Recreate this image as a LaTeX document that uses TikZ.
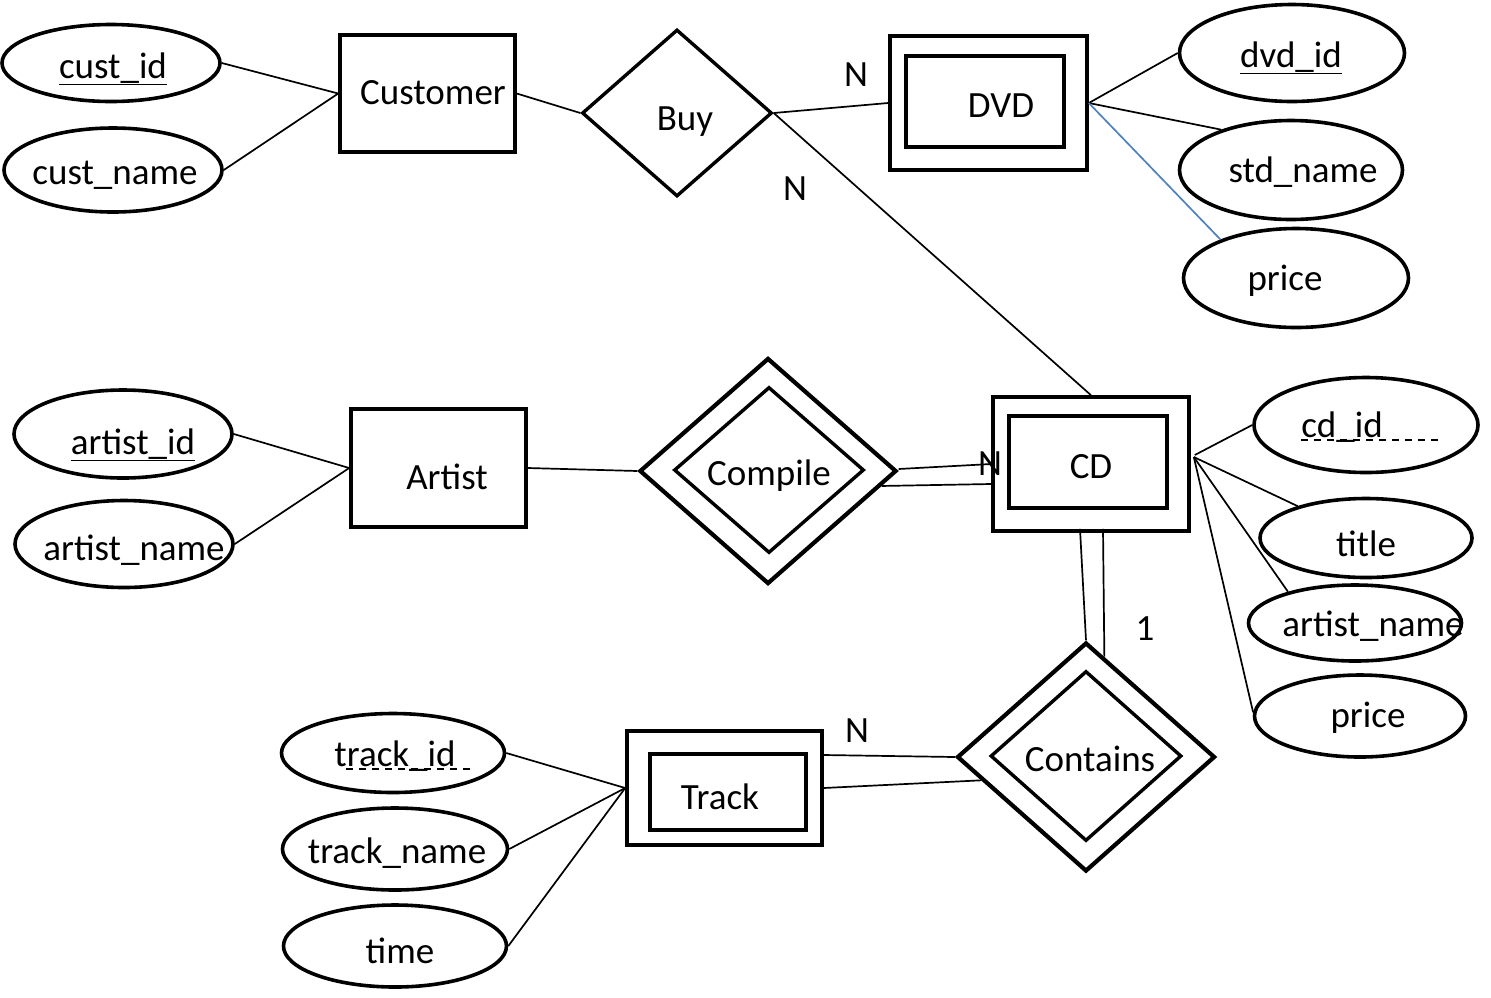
\documentclass[tikz,border=0pt]{standalone}
\usepackage{fontspec}
\setmainfont{Carlito}
\usetikzlibrary{shapes.geometric,calc}
\definecolor{linkblue}{RGB}{79,129,189}
\tikzset{
  attr/.style={ellipse,draw,line width=3.6pt,inner sep=0pt},
  ent/.style={rectangle,draw,line width=3.6pt,inner sep=0pt},
  rel/.style={diamond,draw,line width=3.4pt,inner sep=0pt},
  txt/.style={anchor=base,inner sep=0pt,font=\fontsize{37}{44}\selectfont},
  conn/.style={line width=1.7pt},
}
\begin{document}
\begin{tikzpicture}[x=1pt,y=-1pt]
\useasboundingbox (0,0) rectangle (1491,997);
% ---- shapes ----
\node[attr,minimum width=218pt,minimum height=77pt] (custid) at (111,63) {};
\node[attr,minimum width=218pt,minimum height=84pt] (custname) at (113,170) {};
\node[ent,minimum width=175pt,minimum height=117pt] (cust) at (427.5,93.5) {};
\node[rel,minimum width=190pt,minimum height=167pt] (buy) at (677,113) {};
\node[ent,minimum width=197pt,minimum height=134pt] (dvd) at (988.5,103) {};
\node[ent,minimum width=158pt,minimum height=91pt] (dvdin) at (985,101.5) {};
\node[attr,minimum width=225pt,minimum height=97pt] (dvdid) at (1292,53) {};
\node[attr,minimum width=223pt,minimum height=99pt] (stdname) at (1291,170) {};
\node[attr,minimum width=225pt,minimum height=99pt] (dvdprice) at (1296,278) {};

\node[attr,minimum width=218pt,minimum height=88pt] (artistid) at (123,434) {};
\node[attr,minimum width=218pt,minimum height=87pt] (artistname) at (124,544) {};
\node[ent,minimum width=175pt,minimum height=118pt] (artist) at (438.5,468) {};
\node[rel,minimum width=257pt,minimum height=226pt,line width=4.2pt] (compile) at (768,471) {};
\node[rel,minimum width=190pt,minimum height=166pt] (compilein) at (769,470) {};
\node[ent,minimum width=196pt,minimum height=134pt] (cd) at (1091,464) {};
\node[ent,minimum width=158pt,minimum height=92pt] (cdin) at (1088,462) {};
\node[attr,minimum width=224pt,minimum height=95pt] (cdid) at (1366,425) {};
\node[attr,minimum width=212pt,minimum height=79pt] (title) at (1366,538) {};
\node[attr,minimum width=213pt,minimum height=76pt] (cdartist) at (1355,623) {};
\node[attr,minimum width=211pt,minimum height=82pt] (cdprice) at (1360,716) {};

\node[rel,minimum width=258pt,minimum height=229pt,line width=4.2pt] (contains) at (1086,757) {};
\node[rel,minimum width=191pt,minimum height=170pt] (containsin) at (1086,756) {};
\node[ent,minimum width=195pt,minimum height=114pt] (track) at (724.5,788) {};
\node[ent,minimum width=156pt,minimum height=76pt] (trackin) at (728,792) {};
\node[attr,minimum width=223pt,minimum height=79pt] (trackid) at (393,753) {};
\node[attr,minimum width=225pt,minimum height=82pt] (trackname) at (395,849) {};
\node[attr,minimum width=223pt,minimum height=82pt] (time) at (395,946) {};

% ---- texts ----
\node[txt] (t1) at (113,78) {\underline{cust\_id}};
\node[txt] (t2) at (115,184) {cust\_name};
\node[txt] (t3) at (433,104) {Customer};
\node[txt] (t4) at (685,130) {Buy};
\node[txt] (t5) at (1001,117) {DVD};
\node[txt] (t6) at (1291,67) {\underline{dvd\_id}};
\node[txt] (t7) at (1303,182) {std\_name};
\node[txt] (t8) at (1285,290) {price};
\node[txt] (n1) at (856,86) {N};
\node[txt] (n2) at (795,200) {N};
\node[txt] (t9) at (133,454) {\underline{artist\_id}};
\node[txt] (t10) at (134,560) {artist\_name};
\node[txt] (t11) at (447,489) {Artist};
\node[txt] (t12) at (769,485) {Compile};
\node[txt] (t13) at (1091,478) {CD};
\node[txt] (n3) at (990,475) {N};
\node[txt] (t14) at (1342,437) {cd\_id};
\node[txt] (t15) at (1366,556) {title};
\node[txt] (t16) at (1373,636) {artist\_name};
\node[txt] (t17) at (1368,727) {price};
\node[txt] (one) at (1145,640) {1};
\node[txt] (t18) at (1090,771) {Contains};
\node[txt] (n4) at (857,742) {N};
\node[txt] (t19) at (720,809) {Track};
\node[txt] (t20) at (395,766) {track\_id};
\node[txt] (t21) at (397,863) {track\_name};
\node[txt] (t22) at (400,963) {time};
% dashed underlines
\draw[line width=1.5pt,dash pattern=on 7pt off 6pt] ([yshift=-3pt]t14.base west) -- ++(137,0);
\draw[line width=1.5pt,dash pattern=on 7pt off 6pt] ([xshift=12pt,yshift=-3pt]t20.base west) -- ++(125,0);

% ---- connectors ----
\draw[conn] (custid.east) -- (cust.west);
\draw[conn] (custname.east) -- (cust.west);
\draw[conn] (cust.east) -- (buy.west);
\draw[conn] (buy.east) -- (dvd.west);
\draw[conn] (buy.east) -- (cd.north);
\draw[conn] (dvd.east) -- (dvdid.west);
\draw[conn] (dvd.east) -- (stdname.150);
\draw[conn,linkblue] (dvd.east) -- (dvdprice.153);

\draw[conn] (artistid.east) -- (artist.west);
\draw[conn] (artistname.east) -- (artist.west);
\draw[conn] (artist.east) -- (compile.west);
\draw[conn] ([yshift=2pt]compile.east) -- (cd.west);
\draw[conn] ($(compile.east)!0.13!(compile.south)$) -- ([yshift=-20pt]cd.west);

\draw[conn] ([xshift=4pt,yshift=9pt]cd.east) -- (cdid.west);
\draw[conn] ([xshift=3pt,yshift=7pt]cd.east) -- (title.155);
\draw[conn] ([xshift=3pt,yshift=7pt]cd.east) -- (cdartist.155);
\draw[conn] ([xshift=3pt,yshift=7pt]cd.east) -- (cdprice.178);

\draw[conn] ([xshift=-11pt,yshift=4pt]cd.south) -- (contains.north);
\draw[conn] ([xshift=12pt,yshift=4pt]cd.south) -- ($(contains.north)!0.14!(contains.east)$);

\draw[conn] ([yshift=33pt]track.east) -- (contains.west);
\draw[conn] (track.east) -- ($(contains.west)!0.2!(contains.south)$);

\draw[conn] (track.west) -- (trackid.east);
\draw[conn] (track.west) -- (trackname.east);
\draw[conn] (track.west) -- (time.east);
\end{tikzpicture}
\end{document}
